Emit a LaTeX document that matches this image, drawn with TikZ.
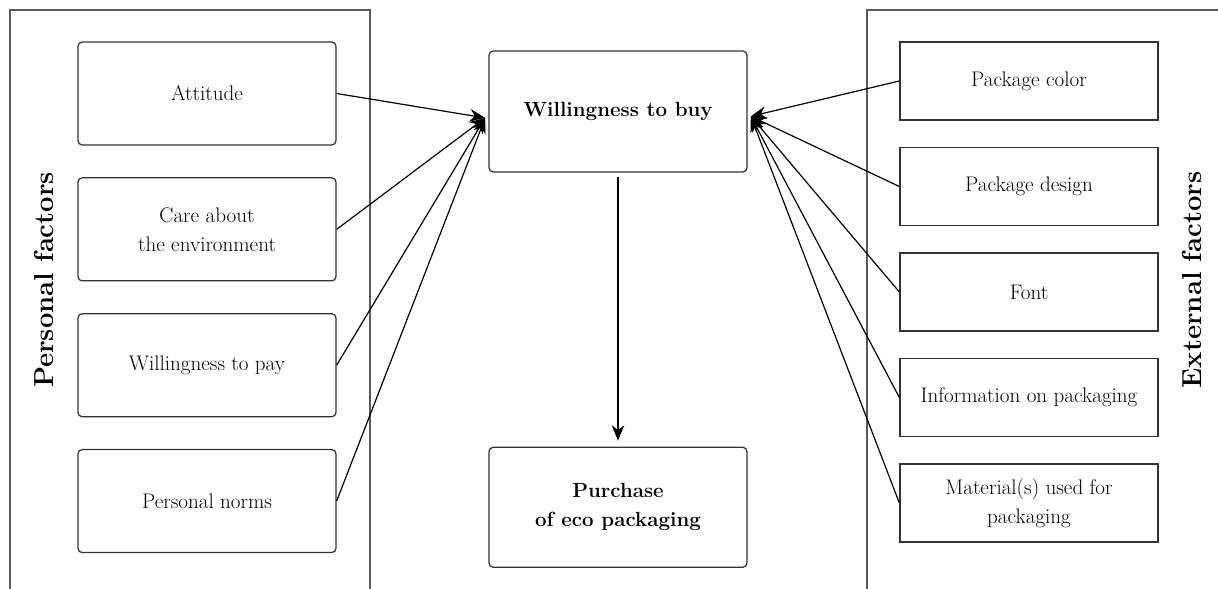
\documentclass[tikz,border=0pt]{standalone}
\usepackage{tikz}
\usetikzlibrary{arrows.meta, positioning}

\begin{document}
\begin{tikzpicture}[
		factorbox/.style={rectangle,rounded corners=3pt,draw=black!80,line width=0.9pt,
			minimum width=6.45cm,minimum height=2.575cm,align=center,
			font=\fontsize{15}{20.6}\selectfont},
		extbox/.style={factorbox,rounded corners=0pt,minimum height=1.95cm},
		mainbox/.style={factorbox,minimum height=3.0cm,font=\fontsize{14.6}{20.6}\selectfont\bfseries},
		sidelabel/.style={rotate=90,font=\fontsize{19.5}{22}\selectfont\bfseries},
		panel/.style={draw=black!65,line width=0.8pt},
		link/.style={line width=0.85pt,-{Stealth[length=11pt,width=9pt]}}
		]
		\useasboundingbox (0,0) rectangle (30.45,-14.725);

		% panels
		\draw[panel] (0.25,-14.725) -- (0.25,-0.25) -- (9.25,-0.25) -- (9.25,-14.725);
		\draw[panel] (30.6,-0.25) -- (21.675,-0.25) -- (21.675,-14.725);
		\node[sidelabel](PL) at (1.1,-7.0){Personal factors};
		\node[sidelabel](EL) at (29.8,-7.0){External factors};

		% personal factors
		\node[factorbox](P1) at (5.175,-2.3375){Attitude};
		\node[factorbox, below = 0.79cm of P1](P2){Care about\\the environment};
		\node[factorbox, below = 0.79cm of P2](P3){Willingness to pay};
		\node[factorbox, below = 0.79cm of P3](P4){Personal norms};

		% external factors
		\node[extbox](E1) at (25.725,-2.025){Package color};
		\node[extbox, below = 0.656cm of E1](E2){Package design};
		\node[extbox, below = 0.656cm of E2](E3){Font};
		\node[extbox, below = 0.656cm of E3](E4){Information on packaging};
		\node[extbox, below = 0.656cm of E4](E5){Material(s) used for\\packaging};

		% centre
		\node[mainbox, minimum height=3.025cm](W) at (15.45,-2.7875){Willingness to buy};
		\node[mainbox, below = 6.85cm of W](B){Purchase\\of eco packaging};

		\coordinate (WL) at ([xshift=-0.08cm,yshift=-0.16cm]W.west);
		\coordinate (WR) at ([xshift=0.08cm,yshift=-0.12cm]W.east);

		\foreach \n in {P1,P2,P3,P4}
			\draw[link] (\n.east) -- (WL);
		\foreach \n in {E1,E2,E3,E4,E5}
			\draw[link] (\n.west) -- (WR);
		\draw[link, shorten <=0.1cm, shorten >=0.15cm] (W) -- (B);
	\end{tikzpicture}
\end{document}
